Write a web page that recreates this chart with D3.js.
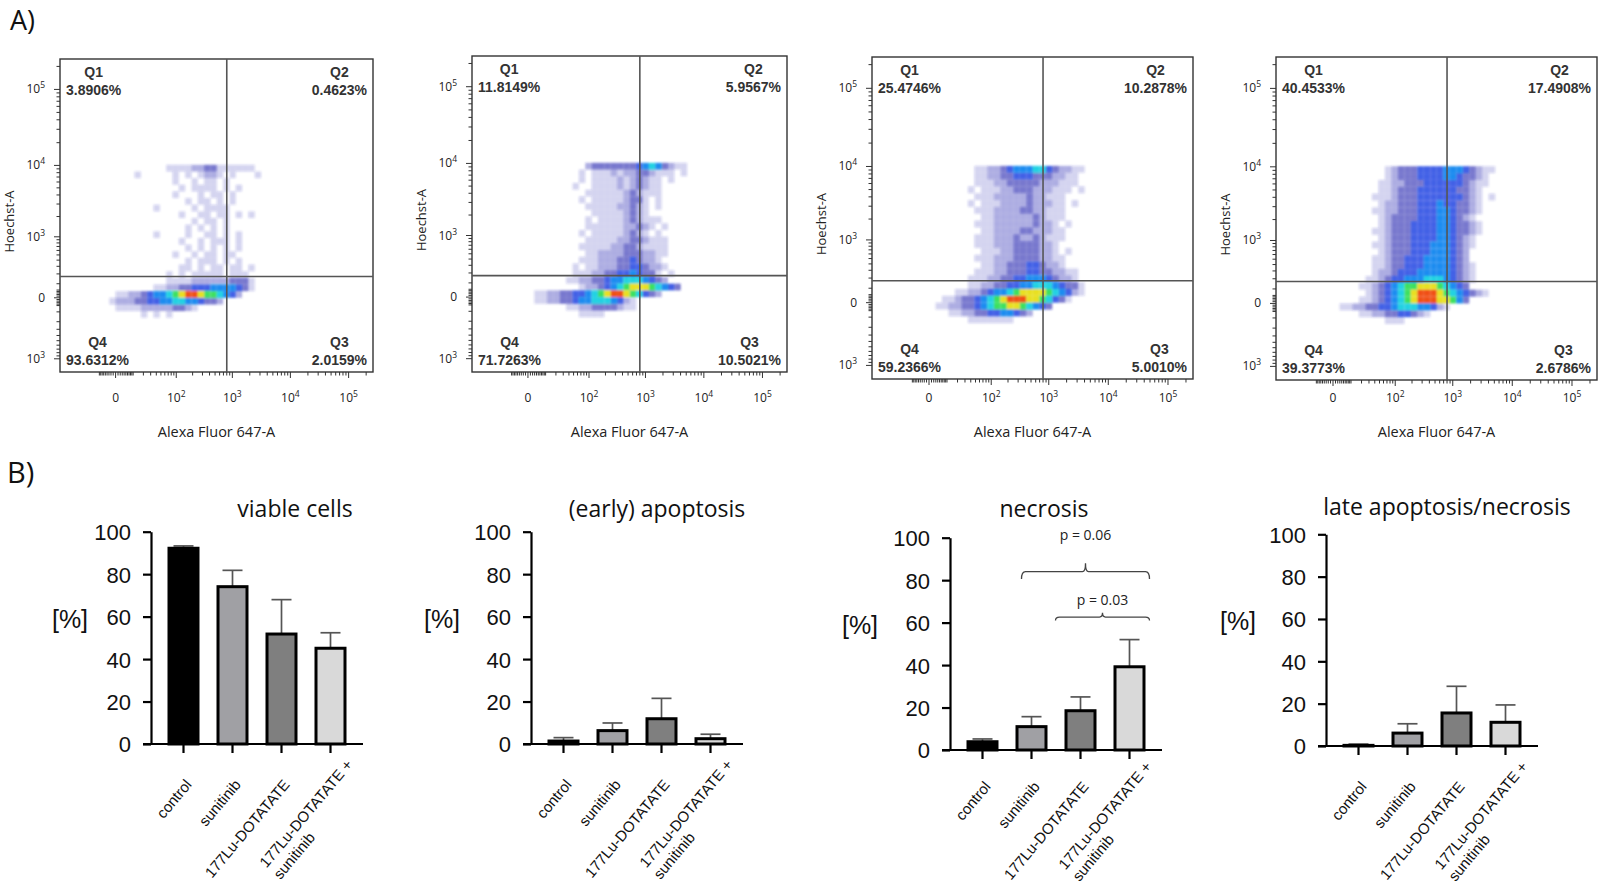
<!DOCTYPE html>
<html>
<head>
<meta charset="utf-8">
<script src="https://cdn.jsdelivr.net/npm/d3@7"></script>
<style>
  body { margin: 0; background: #fff; }
  svg { display: block; }
</style>
</head>
<body>
<svg id="fig" width="1600" height="890"></svg>
<script>
// ---------- A) flow cytometry data ----------
const quadrantNames = ["Q1", "Q2", "Q3", "Q4"];
const quadrantPct1 = ["3.8906%", "0.4623%", "2.0159%", "93.6312%"];
const quadrantPct2 = ["11.8149%", "5.9567%", "10.5021%", "71.7263%"];
const quadrantPct3 = ["25.4746%", "10.2878%", "5.0010%", "59.2366%"];
const quadrantPct4 = ["40.4533%", "17.4908%", "2.6786%", "39.3773%"];

const gateAlexa = 800;     // vertical gate (Alexa Fluor 647-A)
const gateHoechst = 170;   // horizontal gate (Hoechst-A)

const xTickValues = [0, 1e2, 1e3, 1e4, 1e5];
const xTickLabels = ["0", "10^2", "10^3", "10^4", "10^5"];
const yTickValues = [1e5, 1e4, 1e3, 0, -1e3];
const yTickLabels = ["10^5", "10^4", "10^3", "0", "10^3"];

// density: rows top->bottom, columns left->right,
// '.' empty, 1..9 = increasing event density (blue -> red)
const gridX0 = -0.5, gridDX = 0.25;   // Alexa axis, symlog units
const gridY0 = 4.0, gridDY = 0.2;     // Hoechst axis, symlog units (top edge)

const density1 = [
  "..........11112233111111",
  ".....1.....1.1.1221.1...1",
  "...........1..1.11.1",
  "............1.1111.1.1",
  "...........1...1.11.1",
  ".............1.11.1.1",
  "........1.....1.1111",
  "............1..11.11.1.1",
  "..............1.11.1",
  ".............1.1.1.1",
  "........1....1..11.1.1",
  "............1..1.111.1",
  ".............1.1.1.1.1",
  "...........1..1.11.11",
  ".............1.111.1.1",
  "............11.1.11.11.1",
  "..........1.1.11111.111",
  "..........11112222223331",
  "........1122334445555431",
  "..11223455678998776542",
  ".122233445566554332",
  "..1111222223321",
  "......1.1.1"
];
const density2 = [
  "...........2333333345653211",
  "..........1.1112122332111.1",
  "..........1.11112123211.1",
  ".........1..11112123211",
  "...........111111232111",
  "..........1.111112331.1",
  "...........1111122321.1",
  "............111112321",
  "...........1.1111232111",
  "...........11111122321.1",
  "..........1.111112321.1",
  "...........1111122332111",
  "..........11111223321111",
  "...........1122223332211",
  "..........1112223343221",
  ".........1.1122233443221",
  ".........11122334454331.1",
  "........1122334556665432",
  "..........1223456788876543",
  "...11223344567899876432",
  "...1122334556665421",
  "........11223333211",
  "..........1111"
];
const density3 = [
  ".........11223455566432211",
  ".........1122334443332211",
  ".........1112233333222111",
  "........1.11122333222111.1",
  ".........11122222322111",
  "........1.1112222322211.1",
  ".........11122223322111",
  "..........1122222232111",
  ".........1112222223221.1",
  "..........1122223322211",
  ".........11122232232111",
  ".........1112223333221",
  "..........111223333221.1",
  ".........11122233332211",
  "..........1122333443221",
  ".........1112233344332211",
  "........11122334455543221",
  "........112233445566654331",
  "......11223455678888765421",
  "....11233456789998876431",
  "...112233456778876543",
  ".....1122334455432",
  "........1111111"
];
const density4 = [
  "..........12333444455543211",
  "..........1233344445543321",
  ".........11223334444443211",
  ".........1123334444443321",
  "........11123334444444321.1",
  ".........1223334445443321",
  "........11223334445543321",
  ".........123333444554321",
  ".........1233344445543321",
  "........11233344445543321",
  ".........123334444554321",
  "........1123334445554321",
  ".........12333444555432",
  "........112334445555432",
  "........1123344455554321",
  "........1223444555554321",
  ".......11234455566654321",
  "......11234567788876543",
  ".......1234567899987654321",
  "......11234567899988753",
  "...11223344566655421",
  "......11223344321",
  "..........111"
];

// ---------- B) bar chart data ----------
const categories = ["control", "sunitinib", "177Lu-DOTATATE", "177Lu-DOTATATE +\nsunitinib"];
const viableMean = [92.2, 74.1, 51.8, 45.1];
const viableSD = [1.1, 7.7, 16.2, 7.3];
const earlyMean = [1.4, 6.3, 11.9, 2.5];
const earlySD = [1.6, 3.6, 9.6, 2.1];
const necrosisMean = [3.9, 11.0, 18.5, 39.2];
const necrosisSD = [1.3, 4.7, 6.5, 12.8];
const lateMean = [0.3, 6.1, 15.6, 11.2];
const lateSD = [0.6, 4.4, 12.6, 8.2];
const chartTitles = ["viable cells", "(early) apoptosis", "necrosis", "late apoptosis/necrosis"];
const yTicksPct = [0, 20, 40, 60, 80, 100];
const necrosisBrackets = [
  { from: 1, to: 3, line: 84.0, leg: 80.5, nub: 88.0, text: 98.9, label: "p = 0.06" },
  { from: 2, to: 3, line: 62.6, leg: 61.0, nub: 64.6, text: 68.3, label: "p = 0.03" }
];

// ---------- styling / layout ----------
const flowBoxes = [
  { l: 60, r: 373, t: 59, b: 372 },
  { l: 472, r: 787, t: 56, b: 372 },
  { l: 872, r: 1193, t: 57, b: 379 },
  { l: 1276, r: 1597, t: 57, b: 380 }
];
const barLayouts = [
  { axisX: 151, y0: 744, y100: 531.7, titleX: 295, titleY: 517, pctX: 70 },
  { axisX: 531, y0: 744, y100: 531.7, titleX: 657, titleY: 517, pctX: 442 },
  { axisX: 950, y0: 750, y100: 537.7, titleX: 1044, titleY: 517, pctX: 860 },
  { axisX: 1326, y0: 746, y100: 534.3, titleX: 1447, titleY: 515, pctX: 1238 }
];
const bracketOffsets = [[-10, 20], [-25, 20]];
const barColors = ["#000000", "#a0a0a4", "#7f7f7f", "#d9d9d9"];
const densityColors = ["#2a2ab4", "#2a2ab4", "#2424b0", "#1a3ee0", "#1c8cf0", "#22d2e2", "#3ce060", "#e8e022", "#f05018"];
const densityOpacity = [0.2, 0.38, 0.62, 0.82, 1, 1, 1, 1, 1];

const sansUI = "'Open Sans', 'Noto Sans', sans-serif";
const sansArial = "'Liberation Sans', Arial, sans-serif";

const svg = d3.select("#fig");
svg.append("defs").append("filter").attr("id", "soft")
  .append("feGaussianBlur").attr("stdDeviation", 1.0);

svg.append("text").attr("x", 10).attr("y", 30)
  .attr("font-family", sansUI).attr("font-size", 27).attr("fill", "#111").text("A)");
svg.append("text").attr("x", 7).attr("y", 483)
  .attr("font-family", sansUI).attr("font-size", 29).attr("fill", "#111").text("B)");

function powLabel(sel, label) {
  const parts = label.split("^");
  sel.append("tspan").text(parts[0]);
  if (parts[1]) sel.append("tspan").attr("dy", -5).attr("font-size", 8.5).text(parts[1]);
}

const unitsX = (u) => Math.sign(u) * 10 * (Math.exp(Math.abs(u)) - 1);
const unitsY = (u) => Math.sign(u) * 190 * (Math.exp(Math.abs(u)) - 1);

function drawFlow(box, grid, pct) {
  const x = d3.scaleSymlog().constant(10).domain([-80, 262144]).range([box.l, box.r]);
  const y = d3.scaleSymlog().constant(190).domain([-1580, 250000]).range([box.b, box.t]);
  const g = svg.append("g");

  // density cells
  const cells = [];
  grid.forEach((row, r) => {
    for (let c = 0; c < row.length; c++) {
      const lv = +row[c];
      if (lv > 0) cells.push({ r, c, lv });
    }
  });
  g.append("g").attr("filter", "url(#soft)")
    .selectAll("rect").data(cells).join("rect")
    .attr("x", (d) => x(unitsX(gridX0 + d.c * gridDX)))
    .attr("width", (d) => x(unitsX(gridX0 + (d.c + 1) * gridDX)) - x(unitsX(gridX0 + d.c * gridDX)))
    .attr("y", (d) => y(unitsY(gridY0 - d.r * gridDY)))
    .attr("height", (d) => y(unitsY(gridY0 - (d.r + 1) * gridDY)) - y(unitsY(gridY0 - d.r * gridDY)))
    .attr("fill", (d) => densityColors[d.lv - 1])
    .attr("fill-opacity", (d) => densityOpacity[d.lv - 1]);

  // minor / major ticks (outside the frame)
  const xMinor = [];
  for (let k = 1; k <= 5; k++) for (let m = 1; m <= 9; m++) if (m * 10 ** k < 262144) xMinor.push(m * 10 ** k);
  const xZero = d3.range(-9, 10, 1);
  const yMinor = [];
  for (let k = 2; k <= 5; k++) for (let m = 1; m <= 9; m++) if (m * 10 ** k < 250000) yMinor.push(m * 10 ** k);
  for (let m = 1; m <= 10; m++) yMinor.push(-m * 100);
  const yZero = d3.range(-50, 51, 10);

  const tk = g.append("g").attr("stroke", "#333").attr("stroke-width", 1);
  tk.selectAll("line.xm").data(xMinor.concat(xZero)).join("line").attr("class", "xm")
    .attr("x1", (d) => x(d)).attr("x2", (d) => x(d))
    .attr("y1", box.b).attr("y2", (d) => box.b + (xTickValues.includes(d) ? 6 : 3.5));
  tk.selectAll("line.ym").data(yMinor.concat(yZero)).join("line").attr("class", "ym")
    .attr("y1", (d) => y(d)).attr("y2", (d) => y(d))
    .attr("x1", box.l).attr("x2", (d) => box.l - (yTickValues.includes(d) ? 6 : 3.5));

  // frame and gates
  g.append("rect").attr("x", box.l).attr("y", box.t)
    .attr("width", box.r - box.l).attr("height", box.b - box.t)
    .attr("fill", "none").attr("stroke", "#333").attr("stroke-width", 1.4);
  g.append("line").attr("x1", x(gateAlexa)).attr("x2", x(gateAlexa))
    .attr("y1", box.t).attr("y2", box.b).attr("stroke", "#555").attr("stroke-width", 1.6);
  g.append("line").attr("x1", box.l).attr("x2", box.r)
    .attr("y1", y(gateHoechst)).attr("y2", y(gateHoechst)).attr("stroke", "#555").attr("stroke-width", 1.6);

  // tick labels
  g.selectAll("text.xl").data(xTickValues).join("text").attr("class", "xl")
    .attr("x", (d) => x(d)).attr("y", 402)
    .attr("text-anchor", "middle").attr("font-family", sansUI).attr("font-size", 12).attr("fill", "#222")
    .each(function (d, i) { powLabel(d3.select(this), xTickLabels[i]); });
  g.selectAll("text.yl").data(yTickValues).join("text").attr("class", "yl")
    .attr("x", box.l - 15).attr("y", (d) => y(d) + 4)
    .attr("text-anchor", "end").attr("font-family", sansUI).attr("font-size", 12).attr("fill", "#222")
    .each(function (d, i) { powLabel(d3.select(this), yTickLabels[i]); });

  // axis titles
  g.append("text").attr("x", (box.l + box.r) / 2).attr("y", 437)
    .attr("text-anchor", "middle").attr("font-family", sansUI).attr("font-size", 14.5).attr("fill", "#222")
    .text("Alexa Fluor 647-A");
  g.append("text")
    .attr("transform", `translate(${box.l - 46},${(box.t + box.b) / 2 + 6}) rotate(-90)`)
    .attr("text-anchor", "middle").attr("font-family", sansUI).attr("font-size", 13).attr("fill", "#222")
    .text("Hoechst-A");

  // quadrant labels: Q1 top-left, Q2 top-right, Q3 bottom-right, Q4 bottom-left
  const spots = [
    { x: box.l + 6, y: box.t + 36, anchor: "start" },
    { x: box.r - 6, y: box.t + 36, anchor: "end" },
    { x: box.r - 6, y: box.b - 7, anchor: "end" },
    { x: box.l + 6, y: box.b - 7, anchor: "start" }
  ];
  spots.forEach((s, i) => {
    const t = g.append("text").attr("x", s.x).attr("y", s.y).attr("text-anchor", s.anchor)
      .attr("font-family", sansArial).attr("font-weight", "bold").attr("font-size", 14)
      .attr("fill", "#333").text(pct[i]);
    const w = t.node().getComputedTextLength();
    const cx = s.anchor === "start" ? s.x + w / 2 : s.x - w / 2;
    g.append("text").attr("x", cx).attr("y", s.y - 18).attr("text-anchor", "middle")
      .attr("font-family", sansArial).attr("font-weight", "bold").attr("font-size", 14)
      .attr("fill", "#333").text(quadrantNames[i]);
  });
}

drawFlow(flowBoxes[0], density1, quadrantPct1);
drawFlow(flowBoxes[1], density2, quadrantPct2);
drawFlow(flowBoxes[2], density3, quadrantPct3);
drawFlow(flowBoxes[3], density4, quadrantPct4);

function drawBars(L, title, means, sds, brackets) {
  const g = svg.append("g");
  const x = d3.scaleBand().domain(categories)
    .range([L.axisX + 8, L.axisX + 204]).paddingInner(0.347).paddingOuter(0.1735);
  const y = d3.scaleLinear().domain([0, 100]).range([L.y0, L.y100]);
  const rows = categories.map((c, i) => ({ c, i, m: means[i], sd: sds[i] }));

  // error bars (upper SD)
  const eb = g.append("g").attr("stroke", "#555").attr("stroke-width", 1.7);
  eb.selectAll("line.v").data(rows).join("line").attr("class", "v")
    .attr("x1", (d) => x(d.c) + x.bandwidth() / 2).attr("x2", (d) => x(d.c) + x.bandwidth() / 2)
    .attr("y1", (d) => y(d.m)).attr("y2", (d) => y(d.m + d.sd));
  eb.selectAll("line.cap").data(rows).join("line").attr("class", "cap")
    .attr("x1", (d) => x(d.c) + x.bandwidth() / 2 - 10).attr("x2", (d) => x(d.c) + x.bandwidth() / 2 + 10)
    .attr("y1", (d) => y(d.m + d.sd)).attr("y2", (d) => y(d.m + d.sd));

  // bars
  g.selectAll("rect.bar").data(rows).join("rect").attr("class", "bar")
    .attr("x", (d) => x(d.c) + 1.5).attr("width", x.bandwidth() - 3)
    .attr("y", (d) => y(d.m)).attr("height", (d) => Math.max(0, y(0) - y(d.m)))
    .attr("fill", (d) => barColors[d.i]).attr("stroke", "#000").attr("stroke-width", 3);

  // y axis
  const ya = g.append("g").attr("transform", `translate(${L.axisX},0)`)
    .call(d3.axisLeft(y).tickValues(yTicksPct).tickSize(8).tickSizeOuter(0).tickPadding(12));
  ya.select(".domain").attr("stroke", "#000").attr("stroke-width", 2.2);
  ya.selectAll(".tick line").attr("stroke", "#000").attr("stroke-width", 2.2);
  ya.selectAll(".tick text").attr("font-family", sansArial).attr("font-size", 22).attr("fill", "#111").attr("dy", "0.36em");

  // x axis
  g.append("line").attr("x1", L.axisX - 8).attr("x2", L.axisX + 212)
    .attr("y1", L.y0).attr("y2", L.y0).attr("stroke", "#000").attr("stroke-width", 2.2);
  const xa = g.append("g").attr("transform", `translate(0,${L.y0})`)
    .call(d3.axisBottom(x).tickSize(9).tickSizeOuter(0).tickFormat(""));
  xa.select(".domain").remove();
  xa.selectAll(".tick line").attr("stroke", "#000").attr("stroke-width", 2.2);

  // category labels (rotated; two-line label left-aligned, anchored by its first line)
  g.selectAll("g.cat").data(rows).join("g").attr("class", "cat")
    .attr("transform", (d) => {
      const multi = d.c.includes("\n");
      const cx = x(d.c) + x.bandwidth() / 2 + (multi ? 23 : 9);
      const cy = Math.min(L.y0, 746) + (multi ? 21 : 41);
      return `translate(${cx},${cy}) rotate(-50)`;
    })
    .each(function (d) {
      const lines = d.c.split("\n");
      const sel = d3.select(this);
      const t0 = sel.append("text").attr("text-anchor", "end")
        .attr("font-family", sansArial).attr("font-size", 15).attr("fill", "#111").text(lines[0]);
      if (lines[1]) {
        const w = t0.node().getComputedTextLength();
        sel.append("text").attr("x", -w).attr("y", 18)
          .attr("font-family", sansArial).attr("font-size", 15).attr("fill", "#111").text(lines[1]);
      }
    });

  // titles
  g.append("text").attr("x", L.titleX).attr("y", L.titleY).attr("text-anchor", "middle")
    .attr("font-family", sansUI).attr("font-size", 23).attr("fill", "#111").text(title);
  g.append("text").attr("x", L.pctX).attr("y", (L.y0 + L.y100) / 2 - 10).attr("text-anchor", "middle")
    .attr("font-family", sansArial).attr("font-size", 25).attr("fill", "#111").text("[%]");

  // significance brackets
  (brackets || []).forEach((b, k) => {
    const x1 = x(categories[b.from]) + x.bandwidth() / 2 + bracketOffsets[k][0];
    const x2 = x(categories[b.to]) + x.bandwidth() / 2 + bracketOffsets[k][1];
    const xm = (x1 + x2) / 2;
    const yl = y(b.line), yg = y(b.leg), yn = y(b.nub);
    const p = `M${x1},${yg} Q${x1},${yl} ${x1 + 4},${yl} L${xm - 3},${yl} Q${xm},${yl} ${xm},${yn} ` +
      `Q${xm},${yl} ${xm + 3},${yl} L${x2 - 4},${yl} Q${x2},${yl} ${x2},${yg}`;
    g.append("path").attr("d", p).attr("fill", "none").attr("stroke", "#444").attr("stroke-width", 1.3);
    g.append("text").attr("x", xm).attr("y", y(b.text)).attr("text-anchor", "middle")
      .attr("font-family", sansUI).attr("font-size", 14).attr("fill", "#222").text(b.label);
  });
}

drawBars(barLayouts[0], chartTitles[0], viableMean, viableSD);
drawBars(barLayouts[1], chartTitles[1], earlyMean, earlySD);
drawBars(barLayouts[2], chartTitles[2], necrosisMean, necrosisSD, necrosisBrackets);
drawBars(barLayouts[3], chartTitles[3], lateMean, lateSD);
</script>
</body>
</html>
